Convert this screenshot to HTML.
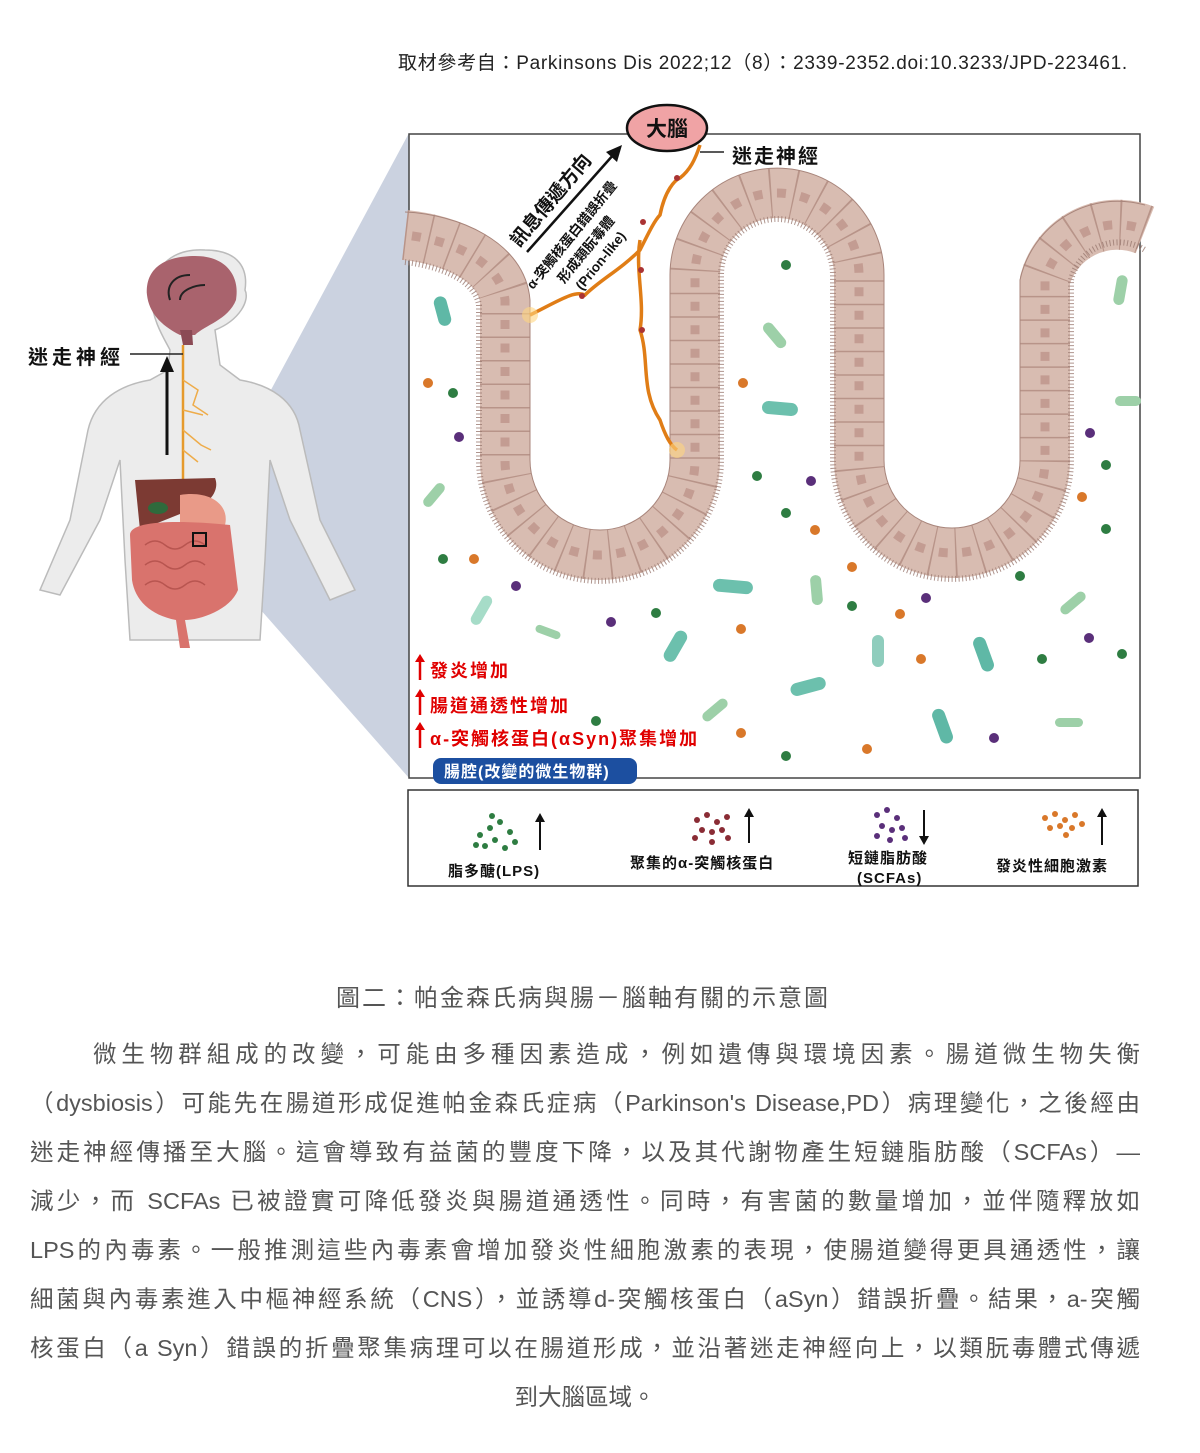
<!DOCTYPE html>
<html><head><meta charset="utf-8"><style>
html,body{margin:0;padding:0;background:#fff;}
body{width:1200px;height:1453px;position:relative;overflow:hidden;font-family:"Liberation Sans","Noto Sans CJK TC",sans-serif;}
.abs{position:absolute;}
.cap{position:absolute;left:0;width:1166px;text-align:center;top:978px;font-size:24px;color:#555;letter-spacing:2px;}
.para{position:absolute;left:30px;width:1110px;top:1030px;font-size:23.5px;color:#555;line-height:49px;}
.para div{text-align:justify;text-align-last:justify;white-space:nowrap;}
</style></head><body>
<div class="abs" style="left:398px;top:48px;font-size:19px;color:#222;letter-spacing:0.7px;">取材參考自：Parkinsons Dis 2022;12（8）：2339-2352.doi:10.3233/JPD-223461.</div>

<svg class="abs" style="left:0;top:0" width="1200" height="950" viewBox="0 0 1200 950">
<polygon points="193,535 409,133 409,778 207,549" fill="#b9c3d6" opacity="0.75"/>
<g>
<path d="M150,380 C120,385 95,400 88,430 L70,520 L40,590 L60,595 L100,520 L120,460 L125,560 L130,640 L260,640 L265,560 L270,460 L290,520 L330,600 L355,590 L320,520 L300,430 C295,400 270,385 240,380 L220,365 L215,330 C240,320 250,300 245,290 C248,270 240,250 205,250 C170,248 150,270 152,300 C152,320 165,340 170,350 L168,370 Z" fill="#ececec" stroke="#bbb" stroke-width="1.5"/>
<path d="M147,295 C145,268 165,256 195,256 C228,256 240,278 236,300 C228,320 205,325 195,335 L180,335 C160,325 149,312 147,295Z" fill="#a9636d"/>
<path d="M180,330 L183,345 L193,345 L192,330Z" fill="#8b4a55"/>
<path d="M170,300 C165,285 175,275 190,275 M180,300 C180,290 195,285 205,285" stroke="#222" stroke-width="2" fill="none"/>
<path d="M183,345 L183,480" stroke="#e69a2c" stroke-width="2.5"/>
<path d="M183,380 l15,10 l-5,15 l15,10 M183,410 l20,5 M183,430 l18,15 l10,5 M183,450 l15,12" stroke="#eeac4a" stroke-width="1.5" fill="none"/>
<line x1="130" y1="354" x2="183" y2="354" stroke="#222" stroke-width="1.5"/>
<line x1="167" y1="455" x2="167" y2="368" stroke="#111" stroke-width="3"/>
<polygon points="160,372 174,372 167,356" fill="#111"/>
<path d="M135,480 L215,478 C220,490 210,505 190,510 L140,530 Z" fill="#7c3a33"/>
<ellipse cx="158" cy="508" rx="10" ry="6" fill="#2f6a3c"/>
<path d="M180,495 C210,490 230,505 225,525 C215,535 195,535 180,525Z" fill="#e99a88"/>
<path d="M130,535 C130,520 180,520 230,525 L238,590 C230,610 200,620 185,620 L190,648 L180,648 L176,620 C150,615 135,600 132,580Z" fill="#d9736d"/>
<path d="M145,545 q10,-8 20,0 q10,8 20,0 q10,-8 20,0 M145,565 q10,-8 20,0 q10,8 20,0 q10,-8 20,0 M145,585 q10,-8 20,0 q10,8 20,0 q10,-8 20,0" stroke="#b85550" fill="none" stroke-width="1.5"/>
<rect x="193" y="533" width="13" height="13" fill="none" stroke="#111" stroke-width="2"/>
</g>
<rect x="409" y="134" width="731" height="644" fill="#fff" stroke="#444" stroke-width="1.5"/>
<g fill="none">
<path d="M405,235 C450,240 500,260 505,300 L505,460 A95,95 0 0 0 695,460 L695,275 A82,82 0 0 1 859,275 L859,460 A93,93 0 0 0 1045,460 L1045,280 A75,75 0 0 1 1145,230" stroke="#d8bcb1" stroke-width="50"/>
<path d="M405,235 C450,240 500,260 505,300 L505,460 A95,95 0 0 0 695,460 L695,275 A82,82 0 0 1 859,275 L859,460 A93,93 0 0 0 1045,460 L1045,280 A75,75 0 0 1 1145,230" stroke="#b89489" stroke-width="50" stroke-dasharray="1.5 22"/>
<path d="M405,235 C450,240 500,260 505,300 L505,460 A95,95 0 0 0 695,460 L695,275 A82,82 0 0 1 859,275 L859,460 A93,93 0 0 0 1045,460 L1045,280 A75,75 0 0 1 1145,230" stroke="#c39c92" stroke-width="9" stroke-dasharray="9 14.5" stroke-dashoffset="-7"/>
<path d="M405,262 C440,266 475,280 479,305 L479,460 A121,121 0 0 0 721,460 L721,275 A56,56 0 0 1 833,275 L833,460 A119,119 0 0 0 1071,460 L1071,280 A49,49 0 0 1 1145,250" stroke="#9b7a72" stroke-width="6" stroke-dasharray="1 2.5" opacity="0.8"/>
<path d="M405,212 C455,214 525,240 530,300 L530,460 A70,70 0 0 0 670,460 L670,275 A107,107 0 0 1 884,275 L884,460 A68,68 0 0 0 1020,460 L1020,280 A100,100 0 0 1 1145,205" stroke="#a8857b" stroke-width="1"/>
</g>
<g fill="none" stroke="#e07d16" stroke-width="3.5">
<path d="M530,315 C560,300 575,290 585,295 C600,280 620,270 640,250 C650,230 655,220 660,215 C665,190 675,180 680,178 C690,170 695,160 700,145"/>
<path d="M640,240 C635,270 645,300 640,330 C650,360 640,390 660,420 C665,435 670,445 677,450"/>
</g>
<g fill="#a33">
<circle cx="582" cy="296" r="3"/><circle cx="641" cy="270" r="3"/><circle cx="642" cy="330" r="3"/><circle cx="677" cy="178" r="3"/><circle cx="643" cy="222" r="3"/>
</g>
<circle cx="530" cy="315" r="8" fill="#ffd580" opacity="0.6"/>
<circle cx="677" cy="450" r="8" fill="#ffd580" opacity="0.6"/>
<ellipse cx="667" cy="128" rx="40" ry="23" fill="#f0a3a5" stroke="#111" stroke-width="2.5"/>
<text x="667" y="136" text-anchor="middle" font-size="21" font-weight="bold" fill="#111" font-family="Liberation Sans,Noto Sans CJK TC,sans-serif">大腦</text>
<line x1="700" y1="152" x2="724" y2="152" stroke="#222" stroke-width="1.5"/>
<text x="732" y="163" font-size="20" font-weight="bold" fill="#111" font-family="Liberation Sans,Noto Sans CJK TC,sans-serif" letter-spacing="2">迷走神經</text>
<line x1="527" y1="252" x2="614" y2="154" stroke="#111" stroke-width="2.5"/>
<polygon points="622,145 606,152 617,162" fill="#111"/>
<g font-family="Liberation Sans,Noto Sans CJK TC,sans-serif" fill="#111">
<text transform="translate(519,248) rotate(-50)" font-size="19" font-weight="bold">訊息傳遞方向</text>
<text transform="translate(533,290) rotate(-51)" font-size="13.5" font-weight="bold">α-突觸核蛋白錯誤折疊</text>
<text transform="translate(564,284) rotate(-51)" font-size="13.5" font-weight="bold">形成類朊毒體</text>
<text transform="translate(582,291) rotate(-51)" font-size="13.5" font-weight="bold">(Prion-like)</text>
</g>
<g>
<rect x="428" y="305" width="30" height="13" rx="6.5" fill="#5fb8a6" transform="rotate(75 443 311)"/>
<rect x="760" y="330" width="30" height="11" rx="5.5" fill="#9dd0a8" transform="rotate(50 775 335)"/>
<rect x="762" y="402" width="36" height="13" rx="6.5" fill="#6cc0ad" transform="rotate(5 780 408)"/>
<rect x="1105" y="285" width="30" height="11" rx="5.5" fill="#9dd0a8" transform="rotate(-80 1120 290)"/>
<rect x="1115" y="396" width="26" height="10" rx="5" fill="#9dd0a8"/>
<rect x="420" y="490" width="28" height="10" rx="5" fill="#9dd0a8" transform="rotate(-50 434 495)"/>
<rect x="713" y="580" width="40" height="13" rx="6.5" fill="#6cc0ad" transform="rotate(5 733 586)"/>
<rect x="802" y="585" width="30" height="11" rx="5.5" fill="#9dd0a8" transform="rotate(85 817 590)"/>
<rect x="465" y="605" width="32" height="11" rx="5.5" fill="#a6dcc8" transform="rotate(-60 481 610)"/>
<rect x="535" y="628" width="26" height="8" rx="4" fill="#9dd0a8" transform="rotate(20 548 632)"/>
<rect x="658" y="640" width="34" height="13" rx="6.5" fill="#6cc0ad" transform="rotate(-60 675 646)"/>
<rect x="862" y="645" width="32" height="12" rx="6" fill="#8fcdbd" transform="rotate(90 878 651)"/>
<rect x="966" y="648" width="36" height="13" rx="6.5" fill="#5fb8a6" transform="rotate(70 984 654)"/>
<rect x="1058" y="598" width="30" height="10" rx="5" fill="#9dd0a8" transform="rotate(-40 1073 603)"/>
<rect x="790" y="680" width="36" height="13" rx="6.5" fill="#6cc0ad" transform="rotate(-15 808 686)"/>
<rect x="700" y="705" width="30" height="10" rx="5" fill="#9dd0a8" transform="rotate(-40 715 710)"/>
<rect x="925" y="720" width="36" height="13" rx="6.5" fill="#5fb8a6" transform="rotate(70 943 726)"/>
<rect x="1055" y="718" width="28" height="9" rx="4.5" fill="#9dd0a8"/>
</g>
<g>
<circle cx="428" cy="383" r="5" fill="#d9782a"/><circle cx="453" cy="393" r="5" fill="#2e7d42"/><circle cx="459" cy="437" r="5" fill="#5a2f7a"/>
<circle cx="786" cy="265" r="5" fill="#2e7d42"/><circle cx="743" cy="383" r="5" fill="#d9782a"/><circle cx="757" cy="476" r="5" fill="#2e7d42"/>
<circle cx="811" cy="481" r="5" fill="#5a2f7a"/><circle cx="786" cy="513" r="5" fill="#2e7d42"/><circle cx="815" cy="530" r="5" fill="#d9782a"/>
<circle cx="1090" cy="433" r="5" fill="#5a2f7a"/><circle cx="1106" cy="465" r="5" fill="#2e7d42"/><circle cx="1082" cy="497" r="5" fill="#d9782a"/><circle cx="1106" cy="529" r="5" fill="#2e7d42"/>
<circle cx="443" cy="559" r="5" fill="#2e7d42"/><circle cx="474" cy="559" r="5" fill="#d9782a"/><circle cx="516" cy="586" r="5" fill="#5a2f7a"/>
<circle cx="852" cy="567" r="5" fill="#d9782a"/><circle cx="852" cy="606" r="5" fill="#2e7d42"/><circle cx="900" cy="614" r="5" fill="#d9782a"/><circle cx="926" cy="598" r="5" fill="#5a2f7a"/>
<circle cx="1020" cy="576" r="5" fill="#2e7d42"/><circle cx="1089" cy="638" r="5" fill="#5a2f7a"/><circle cx="1122" cy="654" r="5" fill="#2e7d42"/><circle cx="1042" cy="659" r="5" fill="#2e7d42"/>
<circle cx="611" cy="622" r="5" fill="#5a2f7a"/><circle cx="656" cy="613" r="5" fill="#2e7d42"/><circle cx="741" cy="629" r="5" fill="#d9782a"/><circle cx="921" cy="659" r="5" fill="#d9782a"/>
<circle cx="596" cy="721" r="5" fill="#2e7d42"/><circle cx="741" cy="733" r="5" fill="#d9782a"/><circle cx="786" cy="756" r="5" fill="#2e7d42"/><circle cx="867" cy="749" r="5" fill="#d9782a"/><circle cx="994" cy="738" r="5" fill="#5a2f7a"/>
</g>
<g font-family="Liberation Sans,Noto Sans CJK TC,sans-serif" fill="#e00000" font-weight="bold" font-size="18" letter-spacing="2">
<text x="430" y="677">發炎增加</text>
<text x="430" y="712">腸道通透性增加</text>
<text x="430" y="745">α-突觸核蛋白(αSyn)聚集增加</text>
</g>
<g stroke="#e00000" stroke-width="2.5"><line x1="420" y1="680" x2="420" y2="660"/><line x1="420" y1="715" x2="420" y2="695"/><line x1="420" y1="748" x2="420" y2="728"/></g>
<g fill="#e00000"><polygon points="415,662 425,662 420,654"/><polygon points="415,697 425,697 420,689"/><polygon points="415,730 425,730 420,722"/></g>
<rect x="433" y="758" width="204" height="26" rx="8" fill="#1c4fa0"/>
<text x="444" y="777" font-size="16" font-weight="bold" fill="#fff" font-family="Liberation Sans,Noto Sans CJK TC,sans-serif" letter-spacing="1">腸腔(改變的微生物群)</text>
<rect x="408" y="790" width="730" height="96" fill="#fff" stroke="#333" stroke-width="1.5"/>
<g fill="#2e7d42"><circle cx="480" cy="835" r="3"/><circle cx="490" cy="828" r="3"/><circle cx="500" cy="822" r="3"/><circle cx="510" cy="832" r="3"/><circle cx="495" cy="840" r="3"/><circle cx="485" cy="846" r="3"/><circle cx="505" cy="848" r="3"/><circle cx="515" cy="842" r="3"/><circle cx="492" cy="816" r="3"/><circle cx="476" cy="845" r="3"/></g>
<g fill="#8a2c35"><circle cx="697" cy="820" r="3"/><circle cx="707" cy="815" r="3"/><circle cx="717" cy="822" r="3"/><circle cx="727" cy="817" r="3"/><circle cx="702" cy="830" r="3"/><circle cx="712" cy="832" r="3"/><circle cx="722" cy="830" r="3"/><circle cx="695" cy="838" r="3"/><circle cx="728" cy="838" r="3"/><circle cx="712" cy="842" r="3"/></g>
<g fill="#5a2f7a"><circle cx="877" cy="815" r="3"/><circle cx="887" cy="810" r="3"/><circle cx="897" cy="818" r="3"/><circle cx="882" cy="826" r="3"/><circle cx="892" cy="830" r="3"/><circle cx="902" cy="828" r="3"/><circle cx="877" cy="836" r="3"/><circle cx="890" cy="840" r="3"/><circle cx="905" cy="838" r="3"/></g>
<g fill="#d9782a"><circle cx="1045" cy="818" r="3"/><circle cx="1055" cy="814" r="3"/><circle cx="1065" cy="820" r="3"/><circle cx="1075" cy="815" r="3"/><circle cx="1050" cy="828" r="3"/><circle cx="1060" cy="826" r="3"/><circle cx="1072" cy="828" r="3"/><circle cx="1082" cy="824" r="3"/><circle cx="1066" cy="835" r="3"/></g>
<g stroke="#111" stroke-width="2"><line x1="540" y1="850" x2="540" y2="820"/><line x1="749" y1="843" x2="749" y2="815"/><line x1="924" y1="810" x2="924" y2="838"/><line x1="1102" y1="845" x2="1102" y2="815"/></g>
<g fill="#111"><polygon points="535,822 545,822 540,813"/><polygon points="744,817 754,817 749,808"/><polygon points="919,836 929,836 924,845"/><polygon points="1097,817 1107,817 1102,808"/></g>
<g font-family="Liberation Sans,Noto Sans CJK TC,sans-serif" fill="#111" font-weight="bold" font-size="15" letter-spacing="1">
<text x="448" y="876">脂多醣(LPS)</text>
<text x="630" y="868">聚集的α-突觸核蛋白</text>
<text x="848" y="863">短鏈脂肪酸</text>
<text x="857" y="883">(SCFAs)</text>
<text x="996" y="871">發炎性細胞激素</text>
</g>
</svg>
<div class="abs" style="left:28px;top:341px;font-size:20px;font-weight:bold;color:#111;letter-spacing:4px;">迷走神經</div>

<div class="cap">圖二：帕金森氏病與腸－腦軸有關的示意圖</div>
<div class="para">
<div style="padding-left:63px;">微生物群組成的改變，可能由多種因素造成，例如遺傳與環境因素。腸道微生物失衡</div>
<div>（dysbiosis）可能先在腸道形成促進帕金森氏症病（Parkinson's Disease,PD）病理變化，之後經由</div>
<div>迷走神經傳播至大腦。這會導致有益菌的豐度下降，以及其代謝物產生短鏈脂肪酸（SCFAs）—</div>
<div>減少，而 SCFAs 已被證實可降低發炎與腸道通透性。同時，有害菌的數量增加，並伴隨釋放如</div>
<div>LPS的內毒素。一般推測這些內毒素會增加發炎性細胞激素的表現，使腸道變得更具通透性，讓</div>
<div>細菌與內毒素進入中樞神經系統（CNS），並誘導d-突觸核蛋白（aSyn）錯誤折疊。結果，a-突觸</div>
<div>核蛋白（a Syn）錯誤的折疊聚集病理可以在腸道形成，並沿著迷走神經向上，以類朊毒體式傳遞</div>
<div style="text-align:center;text-align-last:center;">到大腦區域。</div>
</div>
</body></html>
